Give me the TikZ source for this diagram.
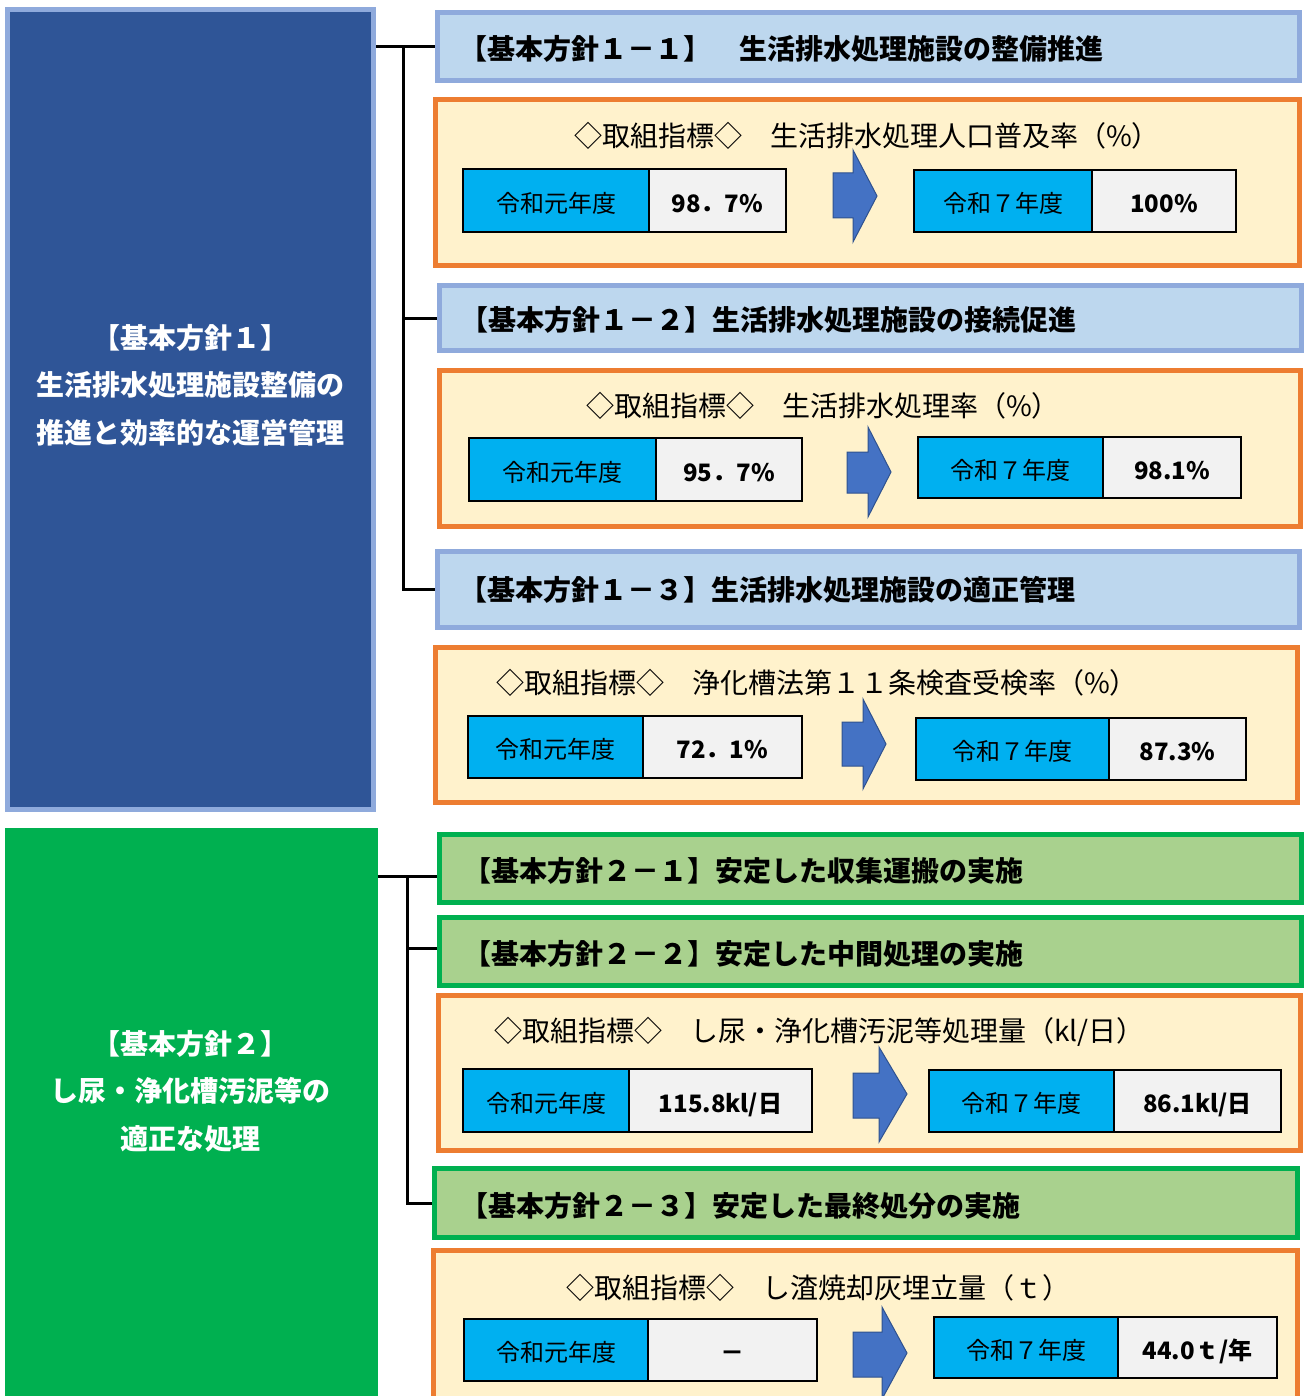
\documentclass[tikz,border=0pt]{standalone}
\usepackage{fontspec}
\setmainfont{Noto Sans CJK JP}
\definecolor{darkblue}{HTML}{2F5597}
\definecolor{bluebd}{HTML}{8FAADC}
\definecolor{headblue}{HTML}{BDD7EE}
\definecolor{grn}{HTML}{00B050}
\definecolor{headgrn}{HTML}{A9D18E}
\definecolor{orng}{HTML}{ED7D31}
\definecolor{cream}{HTML}{FFF2CC}
\definecolor{cellblue}{HTML}{00B0F0}
\definecolor{cellgray}{HTML}{F2F2F2}
\definecolor{arrowblue}{HTML}{4472C4}
\definecolor{arrowbd}{HTML}{2F528F}
\newcommand\obox[6]{%
  \pgfmathsetmacro\qcx{(#3+#5)/2}\pgfmathsetmacro\qcy{(#4+#6)/2}%
  \pgfmathsetmacro\qw{#5-#3-5}\pgfmathsetmacro\qh{#6-#4-5}%
  \node[#1, minimum width=\qw pt, minimum height=\qh pt] (#2) at (\qcx,\qcy) {};}
\newcommand\cellpair[8]{%
  \pgfmathsetmacro\qxa{(#2+1+#3)/2}\pgfmathsetmacro\qxb{(#3+#4-1)/2}%
  \pgfmathsetmacro\qyy{(#5+#6)/2}%
  \pgfmathsetmacro\qwa{#3-#2-1}\pgfmathsetmacro\qwb{#4-1-#3}\pgfmathsetmacro\qhh{#6-#5-2}%
  \node[yearcell, minimum width=\qwa pt, minimum height=\qhh pt] (#1a) at (\qxa,\qyy) {#7};
  \node[valcell, minimum width=\qwb pt, minimum height=\qhh pt] (#1b) at (\qxb,\qyy) {#8};}
\begin{document}
\begin{tikzpicture}[x=1pt,y=-1pt,
  every node/.style={inner sep=0pt},
  big1/.style={draw=bluebd, fill=darkblue, line width=5pt},
  big2/.style={draw=grn, fill=grn, line width=5pt},
  head1/.style={draw=bluebd, fill=headblue, line width=5pt},
  head2/.style={draw=grn, fill=headgrn, line width=5pt},
  goal/.style={draw=orng, fill=cream, line width=5pt},
  yearcell/.style={draw=black, fill=cellblue, line width=2pt, text height=23.5pt, text depth=0pt, font=\fontsize{24}{28}\selectfont},
  valcell/.style={draw=black, fill=cellgray, line width=2pt, text height=23.5pt, text depth=0pt, font=\bfseries\fontsize{24}{28}\selectfont},
  htext/.style={anchor=west, font=\bfseries\fontsize{28}{32}\selectfont},
  gtext/.style={anchor=west, font=\fontsize{28}{32}\selectfont},
  bigtext/.style={align=center, text=white, font=\bfseries\fontsize{28}{47.5}\selectfont},
  conn/.style={line width=3pt, draw=black},
  bigarrow/.style={fill=arrowblue, draw=arrowbd, line width=1pt, line join=miter}]
\useasboundingbox (0,0) rectangle (1306,1396);
\fill[white] (0,0) rectangle (1306,1396);

% left boxes
\obox{big1}{g1}{5}{7}{376}{812}
\obox{big2}{g2}{5}{828}{378}{1403}
\node[bigtext] (g1t) at (190,385) {【基本方針１】\\生活排水処理施設整備の\\推進と効率的な運営管理};
\node[bigtext] (g2t) at (190,1091) {【基本方針２】\\し尿・浄化槽汚泥等の\\適正な処理};

% headers and goal boxes
\obox{head1}{h11}{435}{10}{1302}{83}
\obox{goal}{o1}{433}{97}{1302}{268}
\obox{head1}{h12}{437}{283}{1304}{353}
\obox{goal}{o2}{437}{368}{1303}{529}
\obox{head1}{h13}{435}{549}{1302}{630}
\obox{goal}{o3}{433}{645}{1300}{805}
\obox{head2}{h21}{437}{832}{1304}{905}
\obox{head2}{h22}{437}{915}{1304}{988}
\obox{goal}{o4}{436}{993}{1303}{1153}
\obox{head2}{h23}{432}{1166}{1300}{1240}
\obox{goal}{o5}{431}{1248}{1300}{1405}

% header texts
\node[htext] (h11t) at (459,49) {【基本方針１－１】　生活排水処理施設の整備推進};
\node[htext] (h12t) at (460,320) {【基本方針１－２】生活排水処理施設の接続促進};
\node[htext] (h13t) at (459,590) {【基本方針１－３】生活排水処理施設の適正管理};
\node[htext] (h21t) at (463,871) {【基本方針２－１】安定した収集運搬の実施};
\node[htext] (h22t) at (463,954) {【基本方針２－２】安定した中間処理の実施};
\node[htext] (h23t) at (460,1206) {【基本方針２－３】安定した最終処分の実施};

% goal titles
\node[gtext] (o1t) at (574,136) {◇取組指標◇　生活排水処理人口普及率（\%）};
\node[gtext] (o2t) at (586,406) {◇取組指標◇　生活排水処理率（\%）};
\node[gtext] (o3t) at (496,683) {◇取組指標◇　浄化槽法第１１条検査受検率（\%）};
\node[gtext] (o4t) at (494,1032) {◇取組指標◇　し尿・浄化槽汚泥等処理量（kl/日）};
\node[gtext] (o5t) at (566,1288) {◇取組指標◇　し渣焼却灰埋立量（ｔ）};

% value cells
\cellpair{r1l}{462}{649}{787}{168}{233}{令和元年度}{98．7\%}
\cellpair{r1r}{913}{1092}{1237}{169}{233}{令和７年度}{100\%}
\cellpair{r2l}{468}{656}{803}{437}{502}{令和元年度}{95．7\%}
\cellpair{r2r}{917}{1103}{1242}{436}{499}{令和７年度}{98.1\%}
\cellpair{r3l}{467}{643}{803}{715}{779}{令和元年度}{72．1\%}
\cellpair{r3r}{915}{1109}{1247}{717}{781}{令和７年度}{87.3\%}
\cellpair{r4l}{462}{629}{813}{1068}{1133}{令和元年度}{115.8kl/日}
\cellpair{r4r}{928}{1114}{1282}{1069}{1133}{令和７年度}{86.1kl/日}
\cellpair{r5l}{463}{648}{818}{1318}{1382}{令和元年度}{－}
\cellpair{r5r}{933}{1118}{1278}{1316}{1379}{令和７年度}{44.0ｔ/年}

% block arrows
\draw[bigarrow] (833,173) -- (853,173) -- (853,150) -- (877,196) -- (853,242) -- (853,218) -- (833,218) -- cycle;
\draw[bigarrow] (847,452) -- (868,452) -- (868,427) -- (891,472) -- (868,517) -- (868,493) -- (847,493) -- cycle;
\draw[bigarrow] (842,722) -- (863,722) -- (863,699) -- (886,744) -- (863,789) -- (863,766) -- (842,766) -- cycle;
\draw[bigarrow] (853,1073) -- (879,1073) -- (879,1047) -- (907,1094) -- (879,1142) -- (879,1118) -- (853,1118) -- cycle;
\draw[bigarrow] (853,1332) -- (882,1332) -- (882,1307) -- (907,1353) -- (882,1399) -- (882,1377) -- (853,1377) -- cycle;

% connectors
\coordinate (j1) at (403,47);
\draw[conn] (g1.east |- j1) -- (h11.west |- j1);
\draw[conn] (j1) |- (h12.west);
\draw[conn] (j1) |- (h13.west);
\coordinate (j2) at (407,876);
\coordinate (k22) at (407,948);
\draw[conn] (g2.east |- j2) -- (h21.west |- j2);
\draw[conn] (k22) -- (h22.west |- k22);
\draw[conn] (j2) |- (h23.west);
\end{tikzpicture}
\end{document}
